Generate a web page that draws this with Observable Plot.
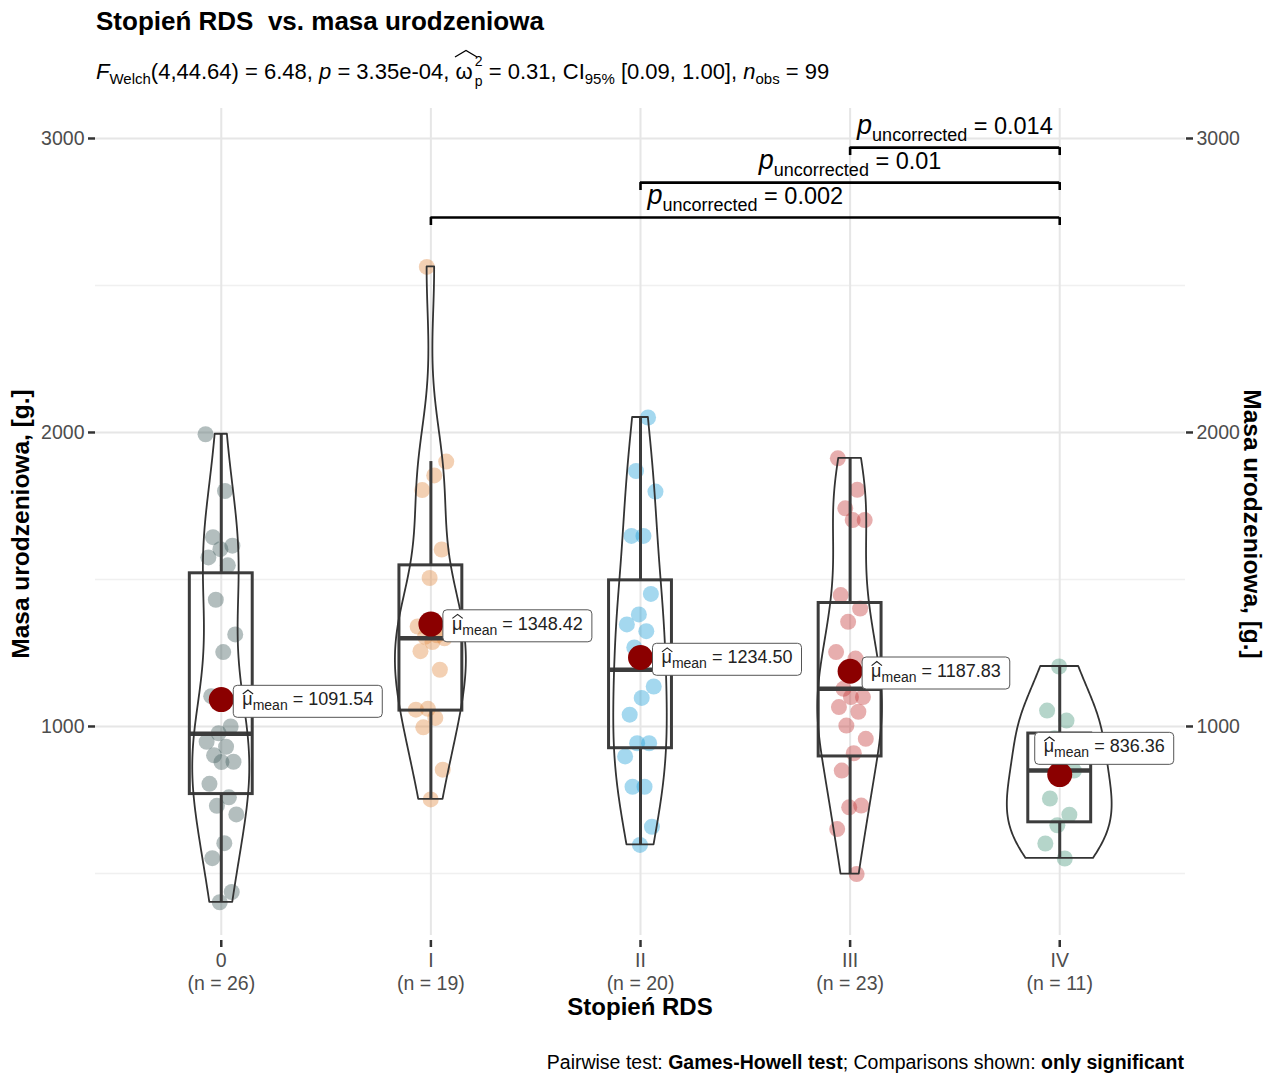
<!DOCTYPE html>
<html>
<head>
<meta charset="utf-8">
<script src="https://cdn.jsdelivr.net/npm/d3@7"></script>
<script src="https://cdn.jsdelivr.net/npm/@observablehq/plot@0.6"></script>
<style>
  body { margin: 0; background: #fff; font-family: "Liberation Sans", Arial, sans-serif; }
  #wrap { position: relative; width: 1276px; height: 1075px; overflow: hidden; }
  #wrap > svg { position: absolute; left: 0; top: 0; }
  .abs { position: absolute; white-space: pre; color: #000; line-height: 1; }
  #title { left: 96px; top: 8px; font-size: 26px; font-weight: bold; }
  #subtitle { left: 96px; top: 61px; font-size: 22px; }
  #subtitle sub { font-size: 15px; vertical-align: -0.35em; line-height: 0; }
  .om { position: relative; display: inline-block; padding-right: 10px; }
  .hat { position: absolute; left: -1px; top: -12px; }
  .sup2 { position: absolute; right: 0; top: -7px; font-size: 14px; }
  .subp { position: absolute; right: 0; top: 13px; font-size: 14px; }
  #caption { right: 92px; top: 1053px; font-size: 19.5px; }
  .ytitle { font-size: 24.5px; font-weight: bold; transform: translate(-50%, -50%) rotate(-90deg); }
  .ytitle2 { font-size: 24.5px; font-weight: bold; transform: translate(-50%, -50%) rotate(90deg); }
  #xtitle { left: 640px; top: 1007px; font-size: 24px; font-weight: bold; transform: translate(-50%, -50%); }
</style>
</head>
<body>
<div id="wrap"></div>
<script>
// ---------- data ----------
const groups = ["0", "I", "II", "III", "IV"];
const counts = [26, 19, 20, 23, 11];
const massG0 = [1994, 1801, 1644, 1615, 1603, 1575, 1548, 1431, 1313, 1253, 1103, 1000, 977, 948, 931, 902, 880, 879, 805, 759, 730, 701, 603, 552, 437, 402];
const massG1 = [2563, 1901, 1854, 1804, 1602, 1505, 1340, 1310, 1305, 1300, 1287, 1256, 1193, 1060, 1057, 1029, 997, 853, 752];
const massG2 = [2051, 1869, 1799, 1648, 1648, 1451, 1381, 1347, 1324, 1269, 1136, 1097, 1040, 943, 943, 898, 795, 795, 659, 597];
const massG3 = [1912, 1805, 1742, 1702, 1702, 1447, 1401, 1356, 1253, 1231, 1128, 1100, 1100, 1066, 1050, 1003, 958, 909, 850, 731, 725, 651, 498];
const massG4 = [1204, 1054, 1020, 960, 850, 840, 755, 700, 664, 602, 551];
const means = [1091.54, 1348.42, 1234.50, 1187.83, 836.36];
const boxQ1 = [770, 1054, 926, 898, 674];
const boxMedian = [975, 1300, 1193, 1128, 850];
const boxQ3 = [1521, 1548, 1497, 1420, 976];
const whiskerLow = [402, 752, 597, 498, 551];
const whiskerHigh = [1994, 1901, 2051, 1912, 1204];
const groupColors = ["#425c5c", "#e08a40", "#1c9ed6", "#c23535", "#45967a"];
const compFrom = ["I", "II", "III"];
const compTo = ["IV", "IV", "IV"];
const compP = ["0.002", "0.01", "0.014"];
const yMajorTicks = [1000, 2000, 3000];
const yMinorTicks = [500, 1500, 2500];

// ---------- derived tables ----------
const allGroups = [massG0, massG1, massG2, massG3, massG4];
const jit = (k, g) => (((k * 0.618034 + g * 0.37) % 1) - 0.5) * 0.15;
const points = allGroups.flatMap((vals, g) => vals.map((v, k) => ({g, x: g + jit(k, g), y: v, c: groupColors[g]})));
const boxes = groups.map((name, g) => ({g, q1: boxQ1[g], med: boxMedian[g], q3: boxQ3[g], lo: whiskerLow[g], hi: whiskerHigh[g]}));
const meanRows = means.map((m, g) => ({g, m, label: "μ|mean| = " + m.toFixed(2)}));

// violin (gaussian KDE, bw.nrd0, trimmed, area-scaled)
function kde(vals) {
  const s = vals.slice().sort(d3.ascending);
  const n = s.length;
  const sd = d3.deviation(s);
  const iqr = d3.quantile(s, 0.75) - d3.quantile(s, 0.25);
  const bw = 0.9 * Math.min(sd, iqr / 1.34) * Math.pow(n, -0.2);
  const lo = s[0], hi = s[n - 1];
  return d3.range(160).map(k => {
    const y = lo + (hi - lo) * k / 159;
    const d = d3.mean(s, v => Math.exp(-0.5 * ((y - v) / bw) ** 2)) / (bw * Math.sqrt(2 * Math.PI));
    return {y, d};
  });
}
const dens = allGroups.map(kde);
const maxD = d3.max(dens.flat(), d => d.d);
const violin = dens.flatMap((arr, g) => arr.map(p => ({g, y: p.y, x1: g - 0.25 * p.d / maxD, x2: g + 0.25 * p.d / maxD})));

// significance brackets
const yMax = d3.max(allGroups.flat());
const brackets = compFrom.map((f, k) => {
  const a = groups.indexOf(f), b = groups.indexOf(compTo[k]);
  const level = yMax + 168 + 119 * k;
  return {a, b, level, tip: level - 27, mid: (a + b) / 2, label: "p|uncorrected| = " + compP[k]};
});
const bracketEnds = brackets.flatMap(br => [{x: br.a, y1: br.tip, y2: br.level}, {x: br.b, y1: br.tip, y2: br.level}]);

const lineCol = "#3c3c3c";
const axisStyle = {label: null, fontSize: 19.5, stroke: "#333", strokeWidth: 2.5, fill: "#4d4d4d"};
const plot = Plot.plot({
  width: 1276, height: 1075,
  marginLeft: 95, marginRight: 91, marginTop: 108, marginBottom: 140,
  x: {domain: [-0.6, 4.6]},
  y: {domain: [289, 3102]},
  color: {type: "identity"},
  style: {fontFamily: "Liberation Sans, Arial, sans-serif", background: "transparent", overflow: "visible"},
  marks: [
    Plot.ruleY(yMinorTicks, {stroke: "#f0f0f0", strokeWidth: 1.5}),
    Plot.ruleY(yMajorTicks, {stroke: "#e6e6e6", strokeWidth: 2}),
    Plot.ruleX(d3.range(groups.length), {stroke: "#e6e6e6", strokeWidth: 2}),
    Plot.axisY({...axisStyle, anchor: "left", ticks: yMajorTicks, tickSize: 7, tickPadding: 4, tickFormat: d => String(d)}),
    Plot.axisY({...axisStyle, anchor: "right", ticks: yMajorTicks, tickSize: 7, tickPadding: 4, tickFormat: d => String(d)}),
    Plot.axisX({...axisStyle, ticks: d3.range(groups.length), tickSize: 7, tickPadding: 3, dy: 5, lineHeight: 1.18,
      tickFormat: i => groups[i] + "\n(n = " + counts[i] + ")"}),
    Plot.dot(points, {x: "x", y: "y", r: 8, fill: "c", fillOpacity: 0.4}),
    Plot.ruleX(boxes, {x: "g", y1: "lo", y2: "q1", stroke: lineCol, strokeWidth: 3}),
    Plot.ruleX(boxes, {x: "g", y1: "q3", y2: "hi", stroke: lineCol, strokeWidth: 3}),
    Plot.rect(boxes, {x1: d => d.g - 0.15, x2: d => d.g + 0.15, y1: "q1", y2: "q3", fill: "none", stroke: lineCol, strokeWidth: 3}),
    Plot.ruleY(boxes, {x1: d => d.g - 0.15, x2: d => d.g + 0.15, y: "med", stroke: lineCol, strokeWidth: 4.5}),
    Plot.areaX(violin, {y: "y", x1: "x1", x2: "x2", z: "g", fill: "none", stroke: "#333", strokeWidth: 1.8}),
    Plot.dot(meanRows, {x: "g", y: "m", r: 12.5, fill: "#8b0000"}),
    Plot.text(meanRows.slice(0, 4), {x: "g", y: "m", text: "label", textAnchor: "start", dx: 21, fontSize: 18, fill: "#222"}),
    Plot.text(meanRows.slice(4), {x: "g", y: "m", text: "label", textAnchor: "start", dx: -16, dy: -28, fontSize: 18, fill: "#222"}),
    Plot.ruleY(brackets, {x1: "a", x2: "b", y: "level", stroke: "#000", strokeWidth: 2.6}),
    Plot.ruleX(bracketEnds, {x: "x", y1: "y1", y2: "y2", stroke: "#000", strokeWidth: 2.6}),
    Plot.text(brackets, {x: "mid", y: "level", text: "label", fontSize: 23.5, dy: -21, fill: "#000"})
  ]
});

const wrap = document.getElementById("wrap");
wrap.appendChild(plot);

// rich text for labels (subscripts / italic / hat) and label boxes
const NS = "http://www.w3.org/2000/svg";
function tspan(txt, attrs) {
  const e = document.createElementNS(NS, "tspan");
  e.textContent = txt;
  for (const k in attrs) e.setAttribute(k, attrs[k]);
  return e;
}
plot.querySelectorAll("text").forEach(t => {
  const s = t.textContent;
  if (!s.includes("|")) return;
  const parts = s.split("|");
  while (t.firstChild) t.removeChild(t.firstChild);
  const tr = t.getAttribute("transform");
  if (parts[0] === "p") {
    t.append(
      tspan("p", {"font-size": 27, "font-style": "italic"}),
      tspan(parts[1], {"font-size": 18, dy: 7}),
      tspan(parts[2], {"font-size": 23.5, dy: -7})
    );
  } else {
    t.append(
      tspan(parts[0], {"font-size": 18}),
      tspan(parts[1], {"font-size": 14, dy: 5}),
      tspan(parts[2], {"font-size": 18, dy: -5})
    );
    const bb = t.getBBox();
    const r = document.createElementNS(NS, "rect");
    r.setAttribute("x", bb.x - 9);
    r.setAttribute("y", bb.y - 4);
    r.setAttribute("width", bb.width + 18);
    r.setAttribute("height", bb.height + 8);
    r.setAttribute("rx", 4);
    r.setAttribute("fill", "#fff");
    r.setAttribute("stroke", "#555");
    r.setAttribute("stroke-width", 1);
    if (tr) r.setAttribute("transform", tr);
    t.parentNode.insertBefore(r, t);
    // hat over mu
    const ex = t.getExtentOfChar(0);
    const base = ex.y + ex.height * 0.78;
    const hy = base - 11;
    const hat = document.createElementNS(NS, "path");
    hat.setAttribute("d", `M${ex.x + 0.5},${hy} L${ex.x + ex.width / 2 + 0.5},${hy - 4} L${ex.x + ex.width + 0.5},${hy}`);
    hat.setAttribute("fill", "none");
    hat.setAttribute("stroke", "#222");
    hat.setAttribute("stroke-width", 1.2);
    if (tr) hat.setAttribute("transform", tr);
    t.parentNode.appendChild(hat);
  }
});

// html texts
function addDiv(id, cls, html, style) {
  const d = document.createElement("div");
  if (id) d.id = id;
  d.className = "abs " + (cls || "");
  d.innerHTML = html;
  if (style) Object.assign(d.style, style);
  wrap.appendChild(d);
}
addDiv("title", "", "Stopień RDS  vs. masa urodzeniowa");
addDiv("subtitle", "", '<i>F</i><sub>Welch</sub>(4,44.64) = 6.48, <i>p</i> = 3.35e-04, <span class="om">ω<svg class="hat" width="24" height="9"><path d="M1,8 L12,1.5 L23,8" fill="none" stroke="#000" stroke-width="1.3"/></svg><span class="sup2">2</span><span class="subp">p</span></span> = 0.31, CI<sub>95%</sub> [0.09, 1.00], <i>n</i><sub>obs</sub> = 99');
addDiv(null, "ytitle", "Masa urodzeniowa, [g.]", {left: "21px", top: "524px"});
addDiv(null, "ytitle2", "Masa urodzeniowa, [g.]", {left: "1252px", top: "524px"});
addDiv("xtitle", "", "Stopień RDS");
addDiv("caption", "", "Pairwise test: <b>Games-Howell test</b>; Comparisons shown: <b>only significant</b>");
</script>
</body>
</html>
